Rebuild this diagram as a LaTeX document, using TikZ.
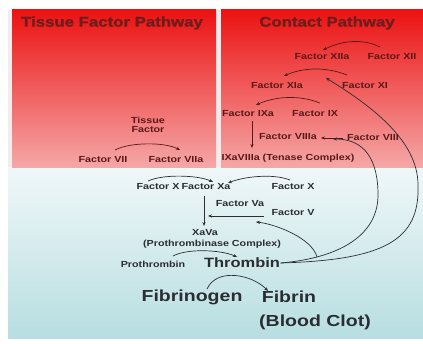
\documentclass[tikz,border=0pt]{standalone}
\usepackage{fontspec}
\usetikzlibrary{arrows.meta}
\newfontfamily\labfont[FakeStretch=1.22]{Liberation Sans}
\newfontfamily\ttlfont[FakeStretch=1.2,FakeBold=1.2]{Liberation Sans}
\definecolor{redtop}{RGB}{236,18,18}
\definecolor{redbot}{RGB}{245,168,168}
\definecolor{bluetop}{RGB}{240,247,248}
\definecolor{bluebot}{RGB}{183,222,225}
\definecolor{gapcol}{RGB}{244,236,236}
\definecolor{maroon}{RGB}{92,24,24}
\definecolor{ttlcol}{RGB}{110,28,28}
\definecolor{dark}{RGB}{42,46,50}
\tikzset{
  small/.style={inner sep=0.5pt, font=\labfont\bfseries\fontsize{8.8}{10}\selectfont},
  up/.style={small, text=maroon},
  low/.style={small, text=dark},
  ttl/.style={inner sep=0.5pt, text=ttlcol, font=\ttlfont\bfseries\fontsize{14}{16}\selectfont},
  big/.style={inner sep=0.5pt, text=dark, font=\labfont\bfseries\fontsize{16}{18}\selectfont},
  arr/.style={-{Stealth[length=4pt,width=3.2pt]}, line width=0.7pt},
  uarr/.style={arr, draw=maroon},
  larr/.style={arr, draw=dark},
}
\begin{document}
\begin{tikzpicture}[x=1pt,y=-1pt]
\useasboundingbox (0,0) rectangle (423,344);
% backgrounds
\fill[white] (0,0) rectangle (423,344);
\fill[gapcol] (8,10) rectangle (423,168);
\shade[top color=bluetop, bottom color=bluebot] (8,168) rectangle (423,339);
\shade[top color=redtop, bottom color=redbot] (12,10) rectangle (216,168);
\shade[top color=redtop, bottom color=redbot] (221,10) rectangle (423,168);

% titles
\node[ttl] (tfp) at (112,23) {Tissue Factor Pathway};
\node[ttl] (cp) at (327,23) {Contact Pathway};

% upper nodes
\node[up] (xiia) at (322,57) {Factor XIIa};
\node[up] (xii) at (392,57) {Factor XII};
\node[up] (xia) at (277,86) {Factor XIa};
\node[up] (xi) at (365,86) {Factor XI};
\node[up] (ixa) at (248,114) {Factor IXa};
\node[up] (ix) at (315,114) {Factor IX};
\node[up] (viiia) at (288,137) {Factor VIIIa};
\node[up] (viii) at (373,138) {Factor VIII};
\node[up] (tenase) at (288,158) {IXaVIIIa (Tenase Complex)};
\node[up, align=center] (tf) at (148,125) {Tissue\\[-1.5pt]Factor};
\node[up] (vii) at (103,160) {Factor VII};
\node[up] (viia) at (176,160) {Factor VIIa};

% lower nodes
\node[low] (xl) at (158,187) {Factor X};
\node[low] (xa) at (206,187) {Factor Xa};
\node[low] (xr) at (293,187) {Factor X};
\node[low] (va) at (240,204) {Factor Va};
\node[low] (v) at (293,213) {Factor V};
\node[low] (xava) at (205,233) {XaVa};
\node[low] (prc) at (212,244) {(Prothrombinase Complex)};
\node[low] (proth) at (153,264) {Prothrombin};
\node[inner sep=0.5pt, text=dark, font=\labfont\bfseries\fontsize{13.5}{15}\selectfont] (thr) at (242,263) {Thrombin};
\node[big] (fbg) at (192,297) {Fibrinogen};
\node[big] (fbn) at (289,297) {Fibrin};
\node[big] (clot) at (315,322) {(Blood Clot)};

% upper arrows
\draw[uarr] ([shift={(-12,-10)}]xii.center) .. controls +(-18,-9) and +(18,-9) .. ([shift={(1,-7)}]xiia.center);
\draw[uarr] ([shift={(-18,-11)}]xi.center) .. controls +(-20,-8) and +(20,-9) .. ([shift={(7,-10)}]xia.center);
\draw[uarr] ([shift={(5,-11)}]ix.center) .. controls +(-20,-8) and +(20,-9) .. ([shift={(8,-9)}]ixa.center);
\draw[uarr] ([shift={(4,7)}]ixa.center) -- ([shift={(-36,-10)}]tenase.center);
\draw[uarr] ([shift={(-30,0)}]viii.center) -- ([shift={(33,1)}]viiia.center);
\draw[uarr] ([shift={(12,-10)}]vii.center) .. controls +(15,-8) and +(-15,-8) .. ([shift={(4,-10)}]viia.center);

% lower arrows
\draw[larr] ([shift={(-10,-6)}]xl.center) .. controls +(15,-7) and +(-15,-7) .. ([shift={(7,-5)}]xa.center);
\draw[larr] ([shift={(-3,-7)}]xr.center) .. controls +(-18,-7) and +(15,-6) .. ([shift={(22,-4)}]xa.center);
\draw[larr] ([shift={(-2,9)}]xa.center) -- ([shift={(-1,-7)}]xava.center);
\draw[larr] ([shift={(-29,3)}]v.center) -- ([shift={(2,29)}]xa.center);
\draw[larr] ([shift={(20,-8)}]proth.center) .. controls +(15,-8) and +(-15,-7) .. ([shift={(-5,-6)}]thr.center);
\draw[larr] ([shift={(15,-8)}]fbg.center) .. controls +(10,-22) and +(-15,-16) .. ([shift={(-21,-6)}]fbn.center);

% thrombin feedback curves
\draw[larr] (thr.east) .. controls (385,260) and (420,240) .. (418,185)
   .. controls (418,140) and (370,105) .. ([shift={(-39,-8)}]xi.center);
\draw[larr] (thr.east) .. controls (340,258) and (378,235) .. (378,195)
   .. controls (378,160) and (365,139) .. ([shift={(-40,1)}]viii.center);
\draw[larr] ([shift={(75,-6)}]thr.center) .. controls (312,238) and (275,224) .. ([shift={(16,18)}]va.center);
\end{tikzpicture}
\end{document}
